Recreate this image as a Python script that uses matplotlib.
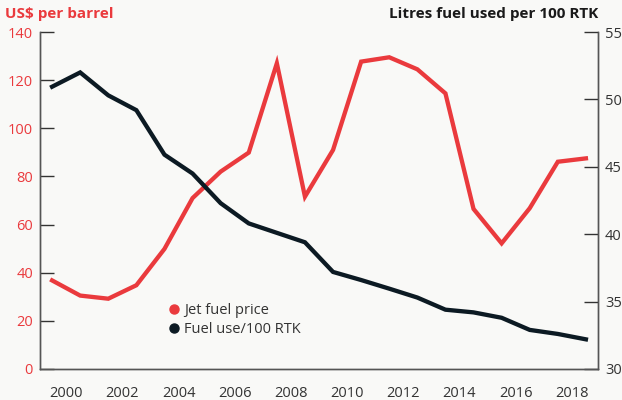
import matplotlib
matplotlib.use("Agg")
import matplotlib.pyplot as plt
from matplotlib.lines import Line2D

plt.rcParams['font.family'] = ['Open Sans', 'DejaVu Sans']

years = [1999.5 + i for i in range(20)]
jet_fuel_price = [36.8, 30.5, 29.2, 34.8, 49.9, 71, 82, 89.9, 127, 71.6,
                  91, 127.7, 129.5, 124.5, 114.5, 66.5, 52.2, 66.8, 86.1, 87.5]
fuel_use = [50.94, 52.0, 50.3, 49.2, 45.9, 44.5, 42.3, 40.8, 40.1, 39.4,
            37.2, 36.6, 35.96, 35.3, 34.4, 34.2, 33.8, 32.9, 32.6, 32.2]
x_ticks = [2000, 2002, 2004, 2006, 2008, 2010, 2012, 2014, 2016, 2018]
left_ticks = [0, 20, 40, 60, 80, 100, 120, 140]
right_ticks = [30, 35, 40, 45, 50, 55]

RED = '#ea3a3d'
DARK = '#0c1a23'
GREY = '#555555'
BG = '#f9f9f7'

fig = plt.figure(figsize=(6.22, 4.0), dpi=100, facecolor=BG)
ax = fig.add_axes([40/622, 31/400, 558/622, 337/400])
ax.set_facecolor(BG)
ax2 = ax.twinx()

ax.plot(years, jet_fuel_price, color=RED, lw=3.1, solid_joinstyle='miter', zorder=3)
ax2.plot(years, fuel_use, color=DARK, lw=3.1, solid_joinstyle='miter', zorder=3)

ax.set_xlim(1999.07, 2018.93)
ax.set_ylim(0, 140)
ax2.set_ylim(30, 55)
ax.set_xticks(x_ticks)
ax.set_yticks(left_ticks)
ax2.set_yticks(right_ticks)

for a in (ax, ax2):
    a.spines['top'].set_visible(False)
    for s in ('left', 'right', 'bottom'):
        a.spines[s].set_color(GREY)
        a.spines[s].set_linewidth(1.0)

ax.tick_params(axis='y', direction='in', length=10, width=1, color='#333333',
               labelcolor=RED, labelsize=10.5, pad=5)
ax2.tick_params(axis='y', direction='in', length=10, width=1, color='#333333',
                labelcolor='#333333', labelsize=10.5, pad=5)
ax.tick_params(axis='x', length=0, labelcolor='#333333', labelsize=10.5, pad=12)

fig.text(5/622, 1 - 14/400, 'US$ per barrel', color=RED, fontsize=11,
         fontweight='bold', ha='left', va='center')
fig.text(598/622, 1 - 14/400, 'Litres fuel used per 100 RTK', color='#1a1a1a',
         fontsize=11, fontweight='bold', ha='right', va='center')

handles = [Line2D([], [], marker='o', ls='', color=RED, markersize=6.5),
           Line2D([], [], marker='o', ls='', color=DARK, markersize=6.5)]
leg = ax.legend(handles, ['Jet fuel price', 'Fuel use/100 RTK'],
                loc='upper left', bbox_to_anchor=(127/558, 66/337),
                frameon=False, fontsize=10.5, handletextpad=0.15,
                handlelength=1.0, labelspacing=0.25, borderaxespad=0, borderpad=0)
for t in leg.get_texts():
    t.set_color('#333333')

fig.savefig('out.png', dpi=100, facecolor=BG)
